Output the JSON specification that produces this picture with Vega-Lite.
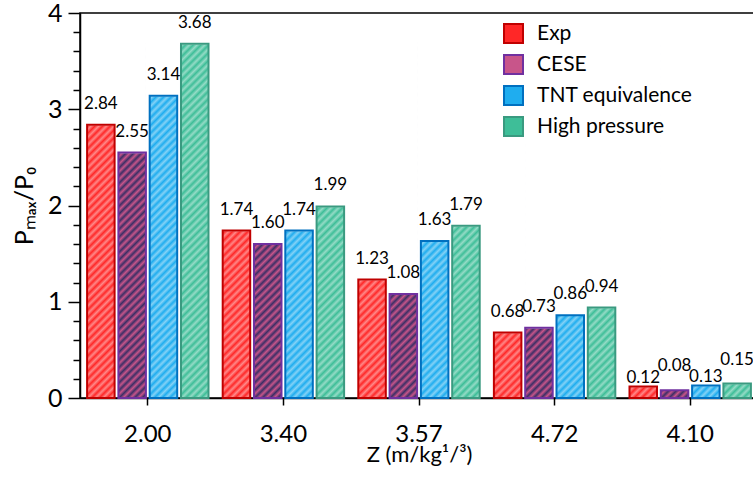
{
  "$schema": "https://vega.github.io/schema/vega-lite/v6.json",
  "width": 678,
  "height": 385,
  "autosize": {"type": "none"},
  "padding": {"left": 80, "top": 13, "right": 0, "bottom": 81},
  "data": {
    "values": [
      {"Z": "2.00", "series": "Exp", "value": 2.84},
      {"Z": "2.00", "series": "CESE", "value": 2.55},
      {"Z": "2.00", "series": "TNT equivalence", "value": 3.14},
      {"Z": "2.00", "series": "High pressure", "value": 3.68},
      {"Z": "3.40", "series": "Exp", "value": 1.74},
      {"Z": "3.40", "series": "CESE", "value": 1.60},
      {"Z": "3.40", "series": "TNT equivalence", "value": 1.74},
      {"Z": "3.40", "series": "High pressure", "value": 1.99},
      {"Z": "3.57", "series": "Exp", "value": 1.23},
      {"Z": "3.57", "series": "CESE", "value": 1.08},
      {"Z": "3.57", "series": "TNT equivalence", "value": 1.63},
      {"Z": "3.57", "series": "High pressure", "value": 1.79},
      {"Z": "4.72", "series": "Exp", "value": 0.68},
      {"Z": "4.72", "series": "CESE", "value": 0.73},
      {"Z": "4.72", "series": "TNT equivalence", "value": 0.86},
      {"Z": "4.72", "series": "High pressure", "value": 0.94},
      {"Z": "4.10", "series": "Exp", "value": 0.12},
      {"Z": "4.10", "series": "CESE", "value": 0.08},
      {"Z": "4.10", "series": "TNT equivalence", "value": 0.13},
      {"Z": "4.10", "series": "High pressure", "value": 0.15}
    ]
  },
  "encoding": {
    "x": {
      "field": "Z",
      "type": "nominal",
      "sort": ["2.00", "3.40", "3.57", "4.72", "4.10"],
      "scale": {"paddingInner": 0.07, "paddingOuter": 0.035},
      "axis": {
        "title": "Z (m/kg¹/³)",
        "labelAngle": 0,
        "labelFontSize": 24,
        "labelPadding": 17,
        "tickSize": 7,
        "titleFontSize": 22,
        "titlePadding": -2
      }
    },
    "xOffset": {
      "field": "series",
      "type": "nominal",
      "sort": ["Exp", "CESE", "TNT equivalence", "High pressure"],
      "scale": {"paddingInner": 0.121, "paddingOuter": 0.075}
    }
  },
  "layer": [
    {
      "mark": {"type": "bar"},
      "encoding": {
        "y": {
          "field": "value",
          "type": "quantitative",
          "scale": {"domain": [0, 4], "nice": false, "zero": true},
          "axis": {
            "title": "Pₘₐₓ/P₀",
            "tickCount": 20,
            "tickSize": {"condition": {"test": "datum.value % 1 === 0", "value": 12}, "value": 7},
            "labelExpr": "datum.value % 1 === 0 ? format(datum.value, 'd') : ''",
            "labelOverlap": false,
            "labelFlush": false,
            "labelFontSize": 25,
            "labelPadding": 6,
            "titleFontSize": 25,
            "titlePadding": 10
          }
        },
        "fill": {
          "field": "series",
          "type": "nominal",
          "scale": {
            "domain": ["Exp", "CESE", "TNT equivalence", "High pressure"],
            "range": ["#ff2727", "#c8558a", "#1fadef", "#3ebe98"]
          },
          "legend": {
            "title": null,
            "orient": "none",
            "legendX": 423,
            "legendY": 10,
            "padding": 0,
            "symbolType": "square",
            "symbolSize": 361,
            "symbolStrokeWidth": 2,
            "labelFontSize": 21,
            "labelOffset": 13,
            "rowPadding": 4,
            "labelColor": "black"
          }
        }
      }
    },
    {
      "mark": {"type": "bar"},
      "encoding": {
        "y": {"datum": 3.7, "type": "quantitative"},
        "y2": {"datum": 0},
        "fill": {
          "condition": {
            "test": "datum.series === 'CESE'",
            "value": {
              "gradient": "linear", "x1": 0, "y1": 0, "x2": 0.0827, "y2": 1.0709,
              "stops": [
                {"offset": 0, "color": "rgba(35,40,95,0)"}, {"offset": 0.01, "color": "rgba(35,40,95,0.85)"},
                {"offset": 0.02, "color": "rgba(35,40,95,0)"}, {"offset": 0.03, "color": "rgba(35,40,95,0.85)"},
                {"offset": 0.04, "color": "rgba(35,40,95,0)"}, {"offset": 0.05, "color": "rgba(35,40,95,0.85)"},
                {"offset": 0.06, "color": "rgba(35,40,95,0)"}, {"offset": 0.07, "color": "rgba(35,40,95,0.85)"},
                {"offset": 0.08, "color": "rgba(35,40,95,0)"}, {"offset": 0.09, "color": "rgba(35,40,95,0.85)"},
                {"offset": 0.10, "color": "rgba(35,40,95,0)"}, {"offset": 0.11, "color": "rgba(35,40,95,0.85)"},
                {"offset": 0.12, "color": "rgba(35,40,95,0)"}, {"offset": 0.13, "color": "rgba(35,40,95,0.85)"},
                {"offset": 0.14, "color": "rgba(35,40,95,0)"}, {"offset": 0.15, "color": "rgba(35,40,95,0.85)"},
                {"offset": 0.16, "color": "rgba(35,40,95,0)"}, {"offset": 0.17, "color": "rgba(35,40,95,0.85)"},
                {"offset": 0.18, "color": "rgba(35,40,95,0)"}, {"offset": 0.19, "color": "rgba(35,40,95,0.85)"},
                {"offset": 0.20, "color": "rgba(35,40,95,0)"}, {"offset": 0.21, "color": "rgba(35,40,95,0.85)"},
                {"offset": 0.22, "color": "rgba(35,40,95,0)"}, {"offset": 0.23, "color": "rgba(35,40,95,0.85)"},
                {"offset": 0.24, "color": "rgba(35,40,95,0)"}, {"offset": 0.25, "color": "rgba(35,40,95,0.85)"},
                {"offset": 0.26, "color": "rgba(35,40,95,0)"}, {"offset": 0.27, "color": "rgba(35,40,95,0.85)"},
                {"offset": 0.28, "color": "rgba(35,40,95,0)"}, {"offset": 0.29, "color": "rgba(35,40,95,0.85)"},
                {"offset": 0.30, "color": "rgba(35,40,95,0)"}, {"offset": 0.31, "color": "rgba(35,40,95,0.85)"},
                {"offset": 0.32, "color": "rgba(35,40,95,0)"}, {"offset": 0.33, "color": "rgba(35,40,95,0.85)"},
                {"offset": 0.34, "color": "rgba(35,40,95,0)"}, {"offset": 0.35, "color": "rgba(35,40,95,0.85)"},
                {"offset": 0.36, "color": "rgba(35,40,95,0)"}, {"offset": 0.37, "color": "rgba(35,40,95,0.85)"},
                {"offset": 0.38, "color": "rgba(35,40,95,0)"}, {"offset": 0.39, "color": "rgba(35,40,95,0.85)"},
                {"offset": 0.40, "color": "rgba(35,40,95,0)"}, {"offset": 0.41, "color": "rgba(35,40,95,0.85)"},
                {"offset": 0.42, "color": "rgba(35,40,95,0)"}, {"offset": 0.43, "color": "rgba(35,40,95,0.85)"},
                {"offset": 0.44, "color": "rgba(35,40,95,0)"}, {"offset": 0.45, "color": "rgba(35,40,95,0.85)"},
                {"offset": 0.46, "color": "rgba(35,40,95,0)"}, {"offset": 0.47, "color": "rgba(35,40,95,0.85)"},
                {"offset": 0.48, "color": "rgba(35,40,95,0)"}, {"offset": 0.49, "color": "rgba(35,40,95,0.85)"},
                {"offset": 0.50, "color": "rgba(35,40,95,0)"}, {"offset": 0.51, "color": "rgba(35,40,95,0.85)"},
                {"offset": 0.52, "color": "rgba(35,40,95,0)"}, {"offset": 0.53, "color": "rgba(35,40,95,0.85)"},
                {"offset": 0.54, "color": "rgba(35,40,95,0)"}, {"offset": 0.55, "color": "rgba(35,40,95,0.85)"},
                {"offset": 0.56, "color": "rgba(35,40,95,0)"}, {"offset": 0.57, "color": "rgba(35,40,95,0.85)"},
                {"offset": 0.58, "color": "rgba(35,40,95,0)"}, {"offset": 0.59, "color": "rgba(35,40,95,0.85)"},
                {"offset": 0.60, "color": "rgba(35,40,95,0)"}, {"offset": 0.61, "color": "rgba(35,40,95,0.85)"},
                {"offset": 0.62, "color": "rgba(35,40,95,0)"}, {"offset": 0.63, "color": "rgba(35,40,95,0.85)"},
                {"offset": 0.64, "color": "rgba(35,40,95,0)"}, {"offset": 0.65, "color": "rgba(35,40,95,0.85)"},
                {"offset": 0.66, "color": "rgba(35,40,95,0)"}, {"offset": 0.67, "color": "rgba(35,40,95,0.85)"},
                {"offset": 0.68, "color": "rgba(35,40,95,0)"}, {"offset": 0.69, "color": "rgba(35,40,95,0.85)"},
                {"offset": 0.70, "color": "rgba(35,40,95,0)"}, {"offset": 0.71, "color": "rgba(35,40,95,0.85)"},
                {"offset": 0.72, "color": "rgba(35,40,95,0)"}, {"offset": 0.73, "color": "rgba(35,40,95,0.85)"},
                {"offset": 0.74, "color": "rgba(35,40,95,0)"}, {"offset": 0.75, "color": "rgba(35,40,95,0.85)"},
                {"offset": 0.76, "color": "rgba(35,40,95,0)"}, {"offset": 0.77, "color": "rgba(35,40,95,0.85)"},
                {"offset": 0.78, "color": "rgba(35,40,95,0)"}, {"offset": 0.79, "color": "rgba(35,40,95,0.85)"},
                {"offset": 0.80, "color": "rgba(35,40,95,0)"}, {"offset": 0.81, "color": "rgba(35,40,95,0.85)"},
                {"offset": 0.82, "color": "rgba(35,40,95,0)"}, {"offset": 0.83, "color": "rgba(35,40,95,0.85)"},
                {"offset": 0.84, "color": "rgba(35,40,95,0)"}, {"offset": 0.85, "color": "rgba(35,40,95,0.85)"},
                {"offset": 0.86, "color": "rgba(35,40,95,0)"}, {"offset": 0.87, "color": "rgba(35,40,95,0.85)"},
                {"offset": 0.88, "color": "rgba(35,40,95,0)"}, {"offset": 0.89, "color": "rgba(35,40,95,0.85)"},
                {"offset": 0.90, "color": "rgba(35,40,95,0)"}, {"offset": 0.91, "color": "rgba(35,40,95,0.85)"},
                {"offset": 0.92, "color": "rgba(35,40,95,0)"}, {"offset": 0.93, "color": "rgba(35,40,95,0.85)"},
                {"offset": 0.94, "color": "rgba(35,40,95,0)"}, {"offset": 0.95, "color": "rgba(35,40,95,0.85)"},
                {"offset": 0.96, "color": "rgba(35,40,95,0)"}, {"offset": 0.97, "color": "rgba(35,40,95,0.85)"},
                {"offset": 0.98, "color": "rgba(35,40,95,0)"}, {"offset": 0.99, "color": "rgba(35,40,95,0.85)"},
                {"offset": 1, "color": "rgba(35,40,95,0)"}
              ]
            }
          },
          "value": {
            "gradient": "linear", "x1": 0, "y1": 0, "x2": 0.0827, "y2": 1.0709,
            "stops": [
              {"offset": 0, "color": "rgba(255,255,255,0)"}, {"offset": 0.01, "color": "rgba(255,255,255,0.45)"},
              {"offset": 0.02, "color": "rgba(255,255,255,0)"}, {"offset": 0.03, "color": "rgba(255,255,255,0.45)"},
              {"offset": 0.04, "color": "rgba(255,255,255,0)"}, {"offset": 0.05, "color": "rgba(255,255,255,0.45)"},
              {"offset": 0.06, "color": "rgba(255,255,255,0)"}, {"offset": 0.07, "color": "rgba(255,255,255,0.45)"},
              {"offset": 0.08, "color": "rgba(255,255,255,0)"}, {"offset": 0.09, "color": "rgba(255,255,255,0.45)"},
              {"offset": 0.10, "color": "rgba(255,255,255,0)"}, {"offset": 0.11, "color": "rgba(255,255,255,0.45)"},
              {"offset": 0.12, "color": "rgba(255,255,255,0)"}, {"offset": 0.13, "color": "rgba(255,255,255,0.45)"},
              {"offset": 0.14, "color": "rgba(255,255,255,0)"}, {"offset": 0.15, "color": "rgba(255,255,255,0.45)"},
              {"offset": 0.16, "color": "rgba(255,255,255,0)"}, {"offset": 0.17, "color": "rgba(255,255,255,0.45)"},
              {"offset": 0.18, "color": "rgba(255,255,255,0)"}, {"offset": 0.19, "color": "rgba(255,255,255,0.45)"},
              {"offset": 0.20, "color": "rgba(255,255,255,0)"}, {"offset": 0.21, "color": "rgba(255,255,255,0.45)"},
              {"offset": 0.22, "color": "rgba(255,255,255,0)"}, {"offset": 0.23, "color": "rgba(255,255,255,0.45)"},
              {"offset": 0.24, "color": "rgba(255,255,255,0)"}, {"offset": 0.25, "color": "rgba(255,255,255,0.45)"},
              {"offset": 0.26, "color": "rgba(255,255,255,0)"}, {"offset": 0.27, "color": "rgba(255,255,255,0.45)"},
              {"offset": 0.28, "color": "rgba(255,255,255,0)"}, {"offset": 0.29, "color": "rgba(255,255,255,0.45)"},
              {"offset": 0.30, "color": "rgba(255,255,255,0)"}, {"offset": 0.31, "color": "rgba(255,255,255,0.45)"},
              {"offset": 0.32, "color": "rgba(255,255,255,0)"}, {"offset": 0.33, "color": "rgba(255,255,255,0.45)"},
              {"offset": 0.34, "color": "rgba(255,255,255,0)"}, {"offset": 0.35, "color": "rgba(255,255,255,0.45)"},
              {"offset": 0.36, "color": "rgba(255,255,255,0)"}, {"offset": 0.37, "color": "rgba(255,255,255,0.45)"},
              {"offset": 0.38, "color": "rgba(255,255,255,0)"}, {"offset": 0.39, "color": "rgba(255,255,255,0.45)"},
              {"offset": 0.40, "color": "rgba(255,255,255,0)"}, {"offset": 0.41, "color": "rgba(255,255,255,0.45)"},
              {"offset": 0.42, "color": "rgba(255,255,255,0)"}, {"offset": 0.43, "color": "rgba(255,255,255,0.45)"},
              {"offset": 0.44, "color": "rgba(255,255,255,0)"}, {"offset": 0.45, "color": "rgba(255,255,255,0.45)"},
              {"offset": 0.46, "color": "rgba(255,255,255,0)"}, {"offset": 0.47, "color": "rgba(255,255,255,0.45)"},
              {"offset": 0.48, "color": "rgba(255,255,255,0)"}, {"offset": 0.49, "color": "rgba(255,255,255,0.45)"},
              {"offset": 0.50, "color": "rgba(255,255,255,0)"}, {"offset": 0.51, "color": "rgba(255,255,255,0.45)"},
              {"offset": 0.52, "color": "rgba(255,255,255,0)"}, {"offset": 0.53, "color": "rgba(255,255,255,0.45)"},
              {"offset": 0.54, "color": "rgba(255,255,255,0)"}, {"offset": 0.55, "color": "rgba(255,255,255,0.45)"},
              {"offset": 0.56, "color": "rgba(255,255,255,0)"}, {"offset": 0.57, "color": "rgba(255,255,255,0.45)"},
              {"offset": 0.58, "color": "rgba(255,255,255,0)"}, {"offset": 0.59, "color": "rgba(255,255,255,0.45)"},
              {"offset": 0.60, "color": "rgba(255,255,255,0)"}, {"offset": 0.61, "color": "rgba(255,255,255,0.45)"},
              {"offset": 0.62, "color": "rgba(255,255,255,0)"}, {"offset": 0.63, "color": "rgba(255,255,255,0.45)"},
              {"offset": 0.64, "color": "rgba(255,255,255,0)"}, {"offset": 0.65, "color": "rgba(255,255,255,0.45)"},
              {"offset": 0.66, "color": "rgba(255,255,255,0)"}, {"offset": 0.67, "color": "rgba(255,255,255,0.45)"},
              {"offset": 0.68, "color": "rgba(255,255,255,0)"}, {"offset": 0.69, "color": "rgba(255,255,255,0.45)"},
              {"offset": 0.70, "color": "rgba(255,255,255,0)"}, {"offset": 0.71, "color": "rgba(255,255,255,0.45)"},
              {"offset": 0.72, "color": "rgba(255,255,255,0)"}, {"offset": 0.73, "color": "rgba(255,255,255,0.45)"},
              {"offset": 0.74, "color": "rgba(255,255,255,0)"}, {"offset": 0.75, "color": "rgba(255,255,255,0.45)"},
              {"offset": 0.76, "color": "rgba(255,255,255,0)"}, {"offset": 0.77, "color": "rgba(255,255,255,0.45)"},
              {"offset": 0.78, "color": "rgba(255,255,255,0)"}, {"offset": 0.79, "color": "rgba(255,255,255,0.45)"},
              {"offset": 0.80, "color": "rgba(255,255,255,0)"}, {"offset": 0.81, "color": "rgba(255,255,255,0.45)"},
              {"offset": 0.82, "color": "rgba(255,255,255,0)"}, {"offset": 0.83, "color": "rgba(255,255,255,0.45)"},
              {"offset": 0.84, "color": "rgba(255,255,255,0)"}, {"offset": 0.85, "color": "rgba(255,255,255,0.45)"},
              {"offset": 0.86, "color": "rgba(255,255,255,0)"}, {"offset": 0.87, "color": "rgba(255,255,255,0.45)"},
              {"offset": 0.88, "color": "rgba(255,255,255,0)"}, {"offset": 0.89, "color": "rgba(255,255,255,0.45)"},
              {"offset": 0.90, "color": "rgba(255,255,255,0)"}, {"offset": 0.91, "color": "rgba(255,255,255,0.45)"},
              {"offset": 0.92, "color": "rgba(255,255,255,0)"}, {"offset": 0.93, "color": "rgba(255,255,255,0.45)"},
              {"offset": 0.94, "color": "rgba(255,255,255,0)"}, {"offset": 0.95, "color": "rgba(255,255,255,0.45)"},
              {"offset": 0.96, "color": "rgba(255,255,255,0)"}, {"offset": 0.97, "color": "rgba(255,255,255,0.45)"},
              {"offset": 0.98, "color": "rgba(255,255,255,0)"}, {"offset": 0.99, "color": "rgba(255,255,255,0.45)"},
              {"offset": 1, "color": "rgba(255,255,255,0)"}
            ]
          }
        }
      }
    },
    {
      "mark": {"type": "bar", "fill": "white", "stroke": "white", "strokeWidth": 1.5},
      "encoding": {
        "y": {"field": "value", "type": "quantitative"},
        "y2": {"datum": 3.7}
      }
    },
    {
      "mark": {"type": "bar", "fill": "transparent", "strokeWidth": 2},
      "encoding": {
        "y": {"field": "value", "type": "quantitative"},
        "stroke": {
          "field": "series",
          "type": "nominal",
          "scale": {
            "domain": ["Exp", "CESE", "TNT equivalence", "High pressure"],
            "range": ["#c00000", "#7030a0", "#0070c0", "#3a9a80"]
          },
          "legend": {
            "title": null,
            "orient": "none",
            "legendX": 423,
            "legendY": 10,
            "padding": 0,
            "symbolType": "square",
            "symbolSize": 361,
            "symbolStrokeWidth": 2,
            "labelFontSize": 21,
            "labelOffset": 13,
            "rowPadding": 4,
            "labelColor": "black"
          }
        }
      }
    },
    {
      "transform": [{"filter": "datum.Z !== '4.10'"}],
      "mark": {"type": "text", "fontSize": 17, "baseline": "alphabetic", "dy": -16, "color": "black"},
      "encoding": {
        "y": {"field": "value", "type": "quantitative"},
        "text": {"field": "value", "type": "quantitative", "format": ".2f"}
      }
    },
    {
      "transform": [{"filter": "datum.Z === '4.10' && (datum.series === 'Exp' || datum.series === 'TNT equivalence')"}],
      "mark": {"type": "text", "fontSize": 17, "baseline": "alphabetic", "dy": -3, "color": "black"},
      "encoding": {
        "y": {"field": "value", "type": "quantitative"},
        "text": {"field": "value", "type": "quantitative", "format": ".2f"}
      }
    },
    {
      "transform": [{"filter": "datum.Z === '4.10' && (datum.series === 'CESE' || datum.series === 'High pressure')"}],
      "mark": {"type": "text", "fontSize": 17, "baseline": "alphabetic", "dy": -19, "color": "black"},
      "encoding": {
        "y": {"field": "value", "type": "quantitative"},
        "text": {"field": "value", "type": "quantitative", "format": ".2f"}
      }
    }
  ],
  "config": {
    "font": "Lato",
    "view": {"stroke": "black", "strokeWidth": 1.5},
    "axis": {
      "grid": false,
      "domainColor": "black",
      "domainWidth": 1.5,
      "tickColor": "black",
      "tickWidth": 1.5,
      "labelColor": "black",
      "titleColor": "black",
      "labelFont": "Lato",
      "titleFont": "Lato",
      "titleFontWeight": "normal"
    },
    "legend": {"labelFont": "Lato"}
  }
}
